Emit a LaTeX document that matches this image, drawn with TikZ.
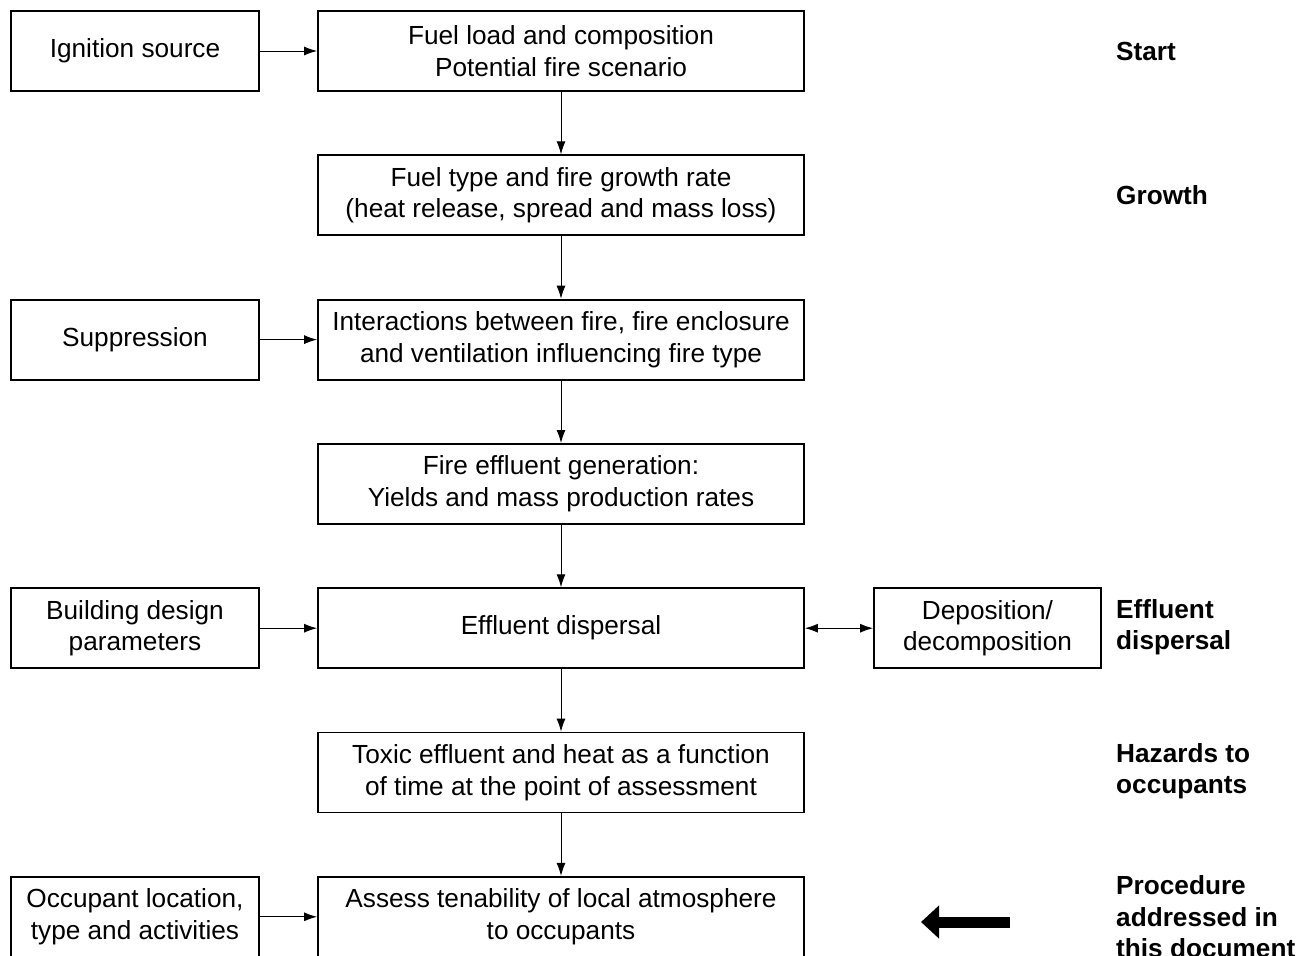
\documentclass[tikz,border=0pt]{standalone}
\usepackage{fontspec}
\setmainfont{Liberation Sans}
\usetikzlibrary{arrows.meta,positioning}

\begin{document}
\begin{tikzpicture}[x=1pt,y=-1pt,node distance=62.5pt and 57.2pt,
    every node/.style={font=\fontsize{26.2}{31.5}\selectfont},
    stage/.style={draw,line width=1.8pt,minimum width=486pt,minimum height=80pt,
                  align=center,inner sep=0pt},
    factor/.style={draw,line width=1.8pt,minimum width=248pt,minimum height=80pt,
                   align=center,inner sep=0pt},
    phase/.style={anchor=west,align=left,inner sep=0pt,
                  font=\fontsize{26.2}{31.5}\selectfont\bfseries},
    flow/.style={-{Latex[length=13pt,width=9pt]},line width=1pt},
    twoway/.style={{Latex[length=13pt,width=9pt]}-{Latex[length=13pt,width=9pt]},line width=1pt}]
  \useasboundingbox (0,0) rectangle (1315,956);
  % main chain
  \node[stage] (load) at (561,51) {Fuel load and composition\\Potential fire scenario};
  \node[stage,below=of load]    (growth) {Fuel type and fire growth rate\\(heat release, spread and mass loss)};
  \node[stage,below=of growth]  (inter)  {Interactions between fire, fire enclosure\\and ventilation influencing fire type};
  \node[stage,below=of inter]   (gen)    {Fire effluent generation:\\Yields and mass production rates};
  \node[stage,below=of gen]     (disp)   {Effluent dispersal};
  \node[stage,below=of disp]    (toxic)  {Toxic effluent and heat as a function\\of time at the point of assessment};
  \node[stage,below=of toxic]   (assess) {Assess tenability of local atmosphere\\to occupants};
  % side inputs
  \node[factor,left=of load]    (ign)    {Ignition source};
  \node[factor,left=of inter]   (supp)   {Suppression};
  \node[factor,left=of disp]    (build)  {Building design\\parameters};
  \node[factor,left=of assess]  (occ)    {Occupant location,\\type and activities};
  \node[factor,minimum width=227pt,right=68.2pt of disp] (depo) {Deposition/\\decomposition};
  % phase labels
  \node[phase] (start) at (1116,51)  {Start};
  \node[phase] (grow)  at (1116,195) {Growth};
  \node[phase] (effl)  at (1116,627) {Effluent\\dispersal};
  \node[phase] (haz)   at (1116,771) {Hazards to\\occupants};
  \node[phase] (proc)  at (1116,917) {Procedure\\addressed in\\this document};
  % connectors
  \draw[flow] (load) -- (growth);
  \draw[flow] (growth) -- (inter);
  \draw[flow] (inter) -- (gen);
  \draw[flow] (gen) -- (disp);
  \draw[flow] (disp) -- (toxic);
  \draw[flow] (toxic) -- (assess);
  \draw[flow] (ign) -- (load);
  \draw[flow] (supp) -- (inter);
  \draw[flow] (build) -- (disp);
  \draw[flow] (occ) -- (assess);
  \draw[twoway] (disp) -- (depo);
  % pointer to the procedure
  \coordinate (tail) at (1010,922);
  \coordinate (tip)  at (921,922);
  \draw[line width=11pt,-{Triangle[length=18pt,width=32pt]}] (tail) -- (tip);
\end{tikzpicture}
\end{document}
